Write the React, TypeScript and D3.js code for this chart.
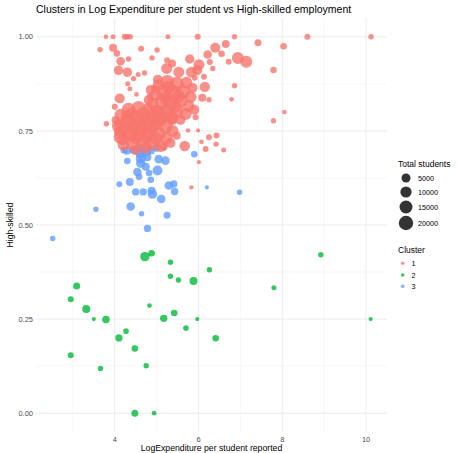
import React from "react";
import * as d3 from "d3";

// [log expenditure per student, high-skilled share, total students]
const cluster1: [number, number, number][] = [
  [3.79, 1, 200], [3.96, 1, 340], [4.24, 1, 1000], [4.30, 1, 700], [4.37, 1, 560],
  [5.27, 1, 340], [5.98, 1, 1000], [6.86, 1, 560], [8.60, 1, 1000], [10.12, 1, 560],
  [3.65, 0.966, 560], [3.96, 0.971, 3350], [4.05, 0.956, 1560], [4.63, 0.968, 1000],
  [5.01, 0.965, 560], [4.14, 0.935, 4330], [4.33, 0.941, 560], [4.89, 0.944, 560],
  [4.09, 0.911, 5800], [4.30, 0.906, 5800], [4.45, 0.889, 560], [4.56, 0.900, 340],
  [4.71, 0.904, 560], [4.31, 0.875, 340], [4.36, 0.862, 340], [4.12, 0.836, 7090],
  [4.52, 0.847, 200], [4.00, 0.814, 1000], [5.25, 0.938, 1000], [5.37, 0.929, 3350],
  [5.24, 0.916, 9500], [5.53, 0.906, 9500], [5.79, 0.941, 5800], [6.01, 0.926, 9500],
  [5.83, 0.906, 9500], [5.97, 0.911, 7090], [6.13, 0.894, 1000], [5.91, 0.891, 1000],
  [6.22, 0.953, 4330], [6.40, 0.971, 7090], [6.27, 0.933, 1000], [6.34, 0.916, 560],
  [6.15, 0.867, 8000], [5.03, 0.886, 7090], [4.94, 0.864, 1000], [4.84, 0.842, 1000],
  [6.09, 0.838, 3350], [6.25, 0.833, 560], [6.55, 0.955, 1560], [6.65, 0.981, 3350],
  [7.42, 0.984, 2000], [8.03, 0.975, 1560], [6.94, 0.944, 12200], [7.14, 0.934, 12200],
  [6.72, 0.934, 1000], [7.79, 0.912, 1560], [6.86, 0.870, 560], [6.79, 0.834, 200],
  [8.05, 0.800, 200], [7.79, 0.777, 560], [3.80, 0.769, 560], [4.09, 0.768, 3350],
  [5.93, 0.786, 1000], [5.75, 0.751, 200], [5.99, 0.751, 50], [5.48, 0.737, 3350],
  [5.67, 0.710, 8500], [6.25, 0.733, 1000], [6.43, 0.738, 1000], [6.07, 0.721, 200],
  [6.17, 0.702, 1000], [6.60, 0.699, 340], [6.01, 0.667, 50], [5.33, 0.775, 1560],
  [5.17, 0.708, 3350], [5.83, 0.600, 100], [6.42, 0.715, 560],
  // dense lower group
  [4.14, 0.793, 12200], [4.33, 0.806, 18700], [4.57, 0.811, 18700], [4.81, 0.809, 12200],
  [5.02, 0.801, 18700], [5.21, 0.790, 12200], [5.38, 0.779, 7090], [4.10, 0.763, 18700],
  [4.31, 0.774, 26600], [4.55, 0.782, 26600], [4.79, 0.779, 26600], [5.00, 0.771, 18700],
  [5.21, 0.761, 18700], [5.38, 0.750, 12200], [4.14, 0.734, 18700], [4.36, 0.745, 26600],
  [4.60, 0.750, 26600], [4.83, 0.750, 26600], [5.05, 0.742, 18700], [5.24, 0.731, 12200],
  [4.21, 0.713, 12200], [4.43, 0.718, 18700], [4.67, 0.721, 18700], [4.90, 0.718, 18700],
  [5.10, 0.710, 12200], [5.33, 0.718, 7090], [4.50, 0.699, 7090], [4.74, 0.705, 12200],
  [4.29, 0.788, 12200], [4.69, 0.795, 18700], [4.93, 0.790, 18700], [4.45, 0.763, 18700],
  [5.10, 0.779, 12200], [4.10, 0.747, 7090], [4.02, 0.779, 3350],
  [4.40, 0.795, 15300], [4.62, 0.768, 22500], [4.88, 0.765, 22500], [4.25, 0.758, 15300],
  [4.50, 0.735, 22500], [4.75, 0.738, 22500], [4.98, 0.730, 15300], [4.20, 0.728, 12200],
  // dense upper group
  [5.05, 0.872, 12200], [5.26, 0.880, 18700], [5.48, 0.875, 18700], [5.71, 0.878, 12200],
  [5.86, 0.864, 7090], [4.98, 0.846, 12200], [5.17, 0.854, 26600], [5.40, 0.851, 26600],
  [5.64, 0.854, 18700], [5.81, 0.840, 12200], [4.90, 0.822, 12200], [5.12, 0.827, 18700],
  [5.33, 0.824, 26600], [5.57, 0.830, 18700], [5.76, 0.816, 12200], [5.05, 0.801, 12200],
  [5.24, 0.803, 18700], [5.48, 0.803, 18700], [5.69, 0.795, 12200], [5.14, 0.782, 7090],
  [5.38, 0.785, 12200], [5.57, 0.779, 7090], [5.90, 0.806, 7090], [4.81, 0.832, 7090],
  [4.86, 0.859, 7090],
  [5.28, 0.866, 15300], [5.52, 0.842, 15300], [5.22, 0.838, 15300], [5.44, 0.815, 15300],
];

const cluster2: [number, number, number][] = [
  [4.72, 0.416, 5800], [4.88, 0.425, 1560], [5.33, 0.401, 560], [5.33, 0.364, 560],
  [5.52, 0.354, 560], [5.88, 0.351, 3350], [6.26, 0.381, 560], [3.09, 0.338, 2000],
  [2.95, 0.303, 1000], [3.32, 0.277, 3350], [3.50, 0.250, 50], [3.79, 0.249, 2800],
  [4.83, 0.286, 200], [5.17, 0.252, 2500], [5.42, 0.266, 1560], [5.97, 0.250, 50],
  [5.70, 0.226, 700], [4.27, 0.218, 700], [4.10, 0.200, 2250], [6.41, 0.199, 1560],
  [4.48, 0.172, 1560], [2.95, 0.154, 1000], [3.66, 0.119, 560], [4.75, 0.126, 560],
  [4.48, 0.0, 2000], [4.94, 0.0, 200], [7.80, 0.333, 340], [8.92, 0.421, 560],
  [10.11, 0.250, 50],
];

const cluster3: [number, number, number][] = [
  [2.52, 0.464, 560], [3.55, 0.542, 560], [4.11, 0.608, 1000], [4.36, 0.614, 3350],
  [4.38, 0.549, 4330], [4.64, 0.530, 560], [4.78, 0.491, 2500], [5.25, 0.526, 2000],
  [4.50, 0.588, 2500], [4.68, 0.588, 2500], [4.88, 0.591, 3350], [4.90, 0.582, 5800],
  [5.11, 0.569, 4330], [5.29, 0.605, 4330], [5.41, 0.609, 2500], [5.43, 0.589, 2500],
  [6.20, 0.600, 50], [6.98, 0.587, 560], [4.86, 0.620, 1560], [5.02, 0.645, 7090],
  [4.54, 0.641, 4330], [4.82, 0.638, 1560], [4.58, 0.628, 1560], [4.74, 0.655, 3350],
  [4.62, 0.664, 5800], [4.30, 0.670, 1560], [5.05, 0.675, 4330], [5.21, 0.671, 4330],
  [4.61, 0.691, 7090], [4.74, 0.695, 7090], [4.29, 0.697, 3350], [5.90, 0.688, 1560],
  [4.78, 0.680, 3350], [4.62, 0.677, 7090], [4.22, 0.699, 2000], [4.60, 0.704, 5000],
  [4.86, 0.699, 5000], [5.00, 0.705, 3350], [4.45, 0.699, 3350],
];

const clusterNames = ["1", "2", "3"];
const clusterColors = ["#F8766D", "#00BA38", "#619CFF"];
const xTicks = [4, 6, 8, 10];
const xMinor = [3, 5, 7, 9];
const yTicks = [0, 0.25, 0.5, 0.75, 1];
const yMinor = [0.125, 0.375, 0.625, 0.875];
const sizeBreaks = [5000, 10000, 15000, 20000];

const W = 457;
const H = 453;
const panel = { left: 36, right: 387, top: 18, bottom: 432 };
const font = "Liberation Sans, Arial, sans-serif";

export default function App() {
  const x = d3.scaleLinear().domain([2.12, 10.5]).range([panel.left, panel.right]);
  const y = d3.scaleLinear().domain([-0.05, 1.05]).range([panel.bottom, panel.top]);
  const r = d3.scaleSqrt().domain([0, 31000]).range([1.8, 8.5]);

  const layers: [number, number, number][][] = [cluster3, cluster2, cluster1];
  const layerColors = [clusterColors[2], clusterColors[1], clusterColors[0]];

  return (
    <svg width={W} height={H} style={{ position: "absolute", left: 0, top: 0, background: "#fff" }}>
      {/* grid */}
      {xMinor.map((v) => (
        <line key={"xm" + v} x1={x(v)} x2={x(v)} y1={panel.top} y2={panel.bottom} stroke="#F2F2F2" strokeWidth={0.6} />
      ))}
      {yMinor.map((v) => (
        <line key={"ym" + v} x1={panel.left} x2={panel.right} y1={y(v)} y2={y(v)} stroke="#F2F2F2" strokeWidth={0.6} />
      ))}
      {xTicks.map((v) => (
        <line key={"xM" + v} x1={x(v)} x2={x(v)} y1={panel.top} y2={panel.bottom} stroke="#EBEBEB" strokeWidth={1} />
      ))}
      {yTicks.map((v) => (
        <line key={"yM" + v} x1={panel.left} x2={panel.right} y1={y(v)} y2={y(v)} stroke="#EBEBEB" strokeWidth={1} />
      ))}

      {/* points */}
      {layers.map((pts, li) => (
        <g key={"l" + li}>
          {pts.map((p, i) => (
            <circle key={i} cx={x(p[0])} cy={y(p[1])} r={r(p[2])} fill={layerColors[li]} fillOpacity={0.8} />
          ))}
        </g>
      ))}

      {/* axis tick labels */}
      {xTicks.map((v) => (
        <text key={"xt" + v} x={x(v)} y={442} textAnchor="middle" fontSize={7.5} fill="#4D4D4D" fontFamily={font}>
          {v}
        </text>
      ))}
      {yTicks.map((v) => (
        <text key={"yt" + v} x={33} y={y(v) + 2.6} textAnchor="end" fontSize={7.5} fill="#4D4D4D" fontFamily={font}>
          {d3.format(".2f")(v)}
        </text>
      ))}

      {/* titles */}
      <text x={36} y={13} fontSize={10.5} fill="#000" fontFamily={font}>
        Clusters in Log Expenditure per student vs High-skilled employment
      </text>
      <text x={(panel.left + panel.right) / 2} y={451} textAnchor="middle" fontSize={8.7} fill="#000" fontFamily={font}>
        LogExpenditure per student reported
      </text>
      <text
        transform={`translate(12.5, ${(panel.top + panel.bottom) / 2}) rotate(-90)`}
        textAnchor="middle"
        fontSize={8.7}
        fill="#000"
        fontFamily={font}
      >
        High-skilled
      </text>

      {/* size legend */}
      <text x={398} y={167} fontSize={8.5} fill="#000" fontFamily={font}>
        Total students
      </text>
      {sizeBreaks.map((v, i) => {
        const cy = [178, 192, 207, 223][i];
        return (
          <g key={"s" + v}>
            <circle cx={406} cy={cy} r={r(v)} fill="#000" fillOpacity={0.8} />
            <text x={418} y={cy + 2.6} fontSize={7.2} fill="#000" fontFamily={font}>
              {v}
            </text>
          </g>
        );
      })}

      {/* cluster legend */}
      <text x={398} y={253} fontSize={8.5} fill="#000" fontFamily={font}>
        Cluster
      </text>
      {clusterNames.map((c, i) => {
        const cy = [263.3, 275, 286.3][i];
        return (
          <g key={"c" + c}>
            <circle cx={402.7} cy={cy} r={1.8} fill={clusterColors[i]} fillOpacity={0.8} />
            <text x={411.5} y={cy + 2.6} fontSize={7.2} fill="#000" fontFamily={font}>
              {c}
            </text>
          </g>
        );
      })}
    </svg>
  );
}
